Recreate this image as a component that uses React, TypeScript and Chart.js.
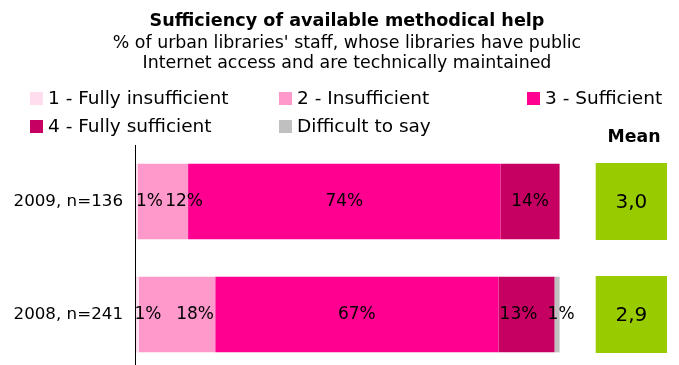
import React, { useEffect, useRef } from "react";
import { Chart, registerables } from "chart.js";
Chart.register(...registerables);

const TITLE = "Sufficiency of available methodical help";
const SUBTITLE = [
  "% of urban libraries' staff, whose libraries have public",
  "Internet access and are technically maintained",
];
const CATEGORIES = ["2009, n=136", "2008, n=241"];
const SERIES_NAMES = [
  "1 - Fully insufficient",
  "2 - Insufficient",
  "3 - Sufficient",
  "4 - Fully sufficient",
  "Difficult to say",
];
const FULLY_INSUFFICIENT = [0.7, 0.9];
const INSUFFICIENT = [11.8, 18.0];
const SUFFICIENT = [73.6, 66.7];
const FULLY_SUFFICIENT = [13.9, 13.2];
const DIFFICULT_TO_SAY = [0, 1.2];
const MEAN_LABEL = "Mean";
const MEANS = [3.0, 2.9];

const COLORS = ["#FFDDEE", "#FF99CC", "#FF0090", "#C60062", "#C0C0C0"];
const MEAN_COLOR = "#99CC00";
const FONT = '"DejaVu Sans", Verdana, sans-serif';
// label horizontal nudges (px) per series, per category
const LABEL_SHIFT = [
  [13, 11],
  [21, 18],
  [0, 0],
  [0, -8],
  [0, 4],
];
// mean box span on the value axis (layout only)
const MEAN_BOX = [108.5, 125.3];

const headerPlugin = {
  id: "header",
  afterDraw(chart: any) {
    const ctx = chart.ctx;
    ctx.save();
    ctx.fillStyle = "#000";
    ctx.textAlign = "center";
    ctx.textBaseline = "alphabetic";
    ctx.font = `bold 17.6px ${FONT}`;
    ctx.fillText(TITLE, 347, 26);
    ctx.font = `17.4px ${FONT}`;
    ctx.fillText(SUBTITLE[0], 347, 48);
    ctx.fillText(SUBTITLE[1], 347, 68);
    // legend
    const cols = [30, 279, 527];
    const rows = [104, 132];
    ctx.textAlign = "left";
    ctx.font = `18.5px ${FONT}`;
    SERIES_NAMES.forEach((name, i) => {
      const x = cols[i % 3];
      const y = rows[Math.floor(i / 3)];
      ctx.fillStyle = COLORS[i];
      ctx.fillRect(x, y - 12, 13, 13);
      ctx.fillStyle = "#000";
      ctx.fillText(name, x + 18, y);
    });
    ctx.textAlign = "center";
    ctx.font = `bold 17.3px ${FONT}`;
    ctx.fillText(MEAN_LABEL, 634, 142);
    ctx.restore();
  },
};

const labelPlugin = {
  id: "barLabels",
  afterDatasetsDraw(chart: any) {
    const ctx = chart.ctx;
    ctx.save();
    ctx.fillStyle = "#000";
    ctx.textAlign = "center";
    ctx.textBaseline = "middle";
    chart.data.datasets.forEach((ds: any, di: number) => {
      const meta = chart.getDatasetMeta(di);
      meta.data.forEach((el: any, i: number) => {
        if (ds.isMean) {
          ctx.font = `20px ${FONT}`;
          const txt = MEANS[i].toFixed(1).replace(".", ",");
          ctx.fillText(txt, (el.x + el.base) / 2, el.y + 1);
        } else {
          const v = ds.data[i];
          if (!v) return;
          ctx.font = `17px ${FONT}`;
          const cx = (el.x + el.base) / 2 + LABEL_SHIFT[di][i];
          ctx.fillText(Math.round(v) + "%", cx, el.y);
        }
      });
    });
    ctx.restore();
  },
};

export default function App() {
  const ref = useRef<HTMLCanvasElement>(null);
  useEffect(() => {
    if (!ref.current) return;
    const series = [
      FULLY_INSUFFICIENT,
      INSUFFICIENT,
      SUFFICIENT,
      FULLY_SUFFICIENT,
      DIFFICULT_TO_SAY,
    ];
    const datasets: any[] = series.map((d, i) => ({
      label: SERIES_NAMES[i],
      data: d,
      backgroundColor: COLORS[i],
      borderWidth: 0,
      xAxisID: "x",
      yAxisID: "y",
      grouped: false,
      barPercentage: 1,
      categoryPercentage: 0.67,
    }));
    datasets.push({
      label: MEAN_LABEL,
      isMean: true,
      data: MEANS.map(() => [MEAN_BOX[0], MEAN_BOX[1]]),
      backgroundColor: MEAN_COLOR,
      borderWidth: 0,
      xAxisID: "x",
      yAxisID: "y2",
      grouped: false,
      barPercentage: 1,
      categoryPercentage: 0.68,
    });
    const chart = new Chart(ref.current, {
      type: "bar",
      data: { labels: CATEGORIES, datasets },
      plugins: [headerPlugin, labelPlugin],
      options: {
        indexAxis: "y",
        animation: false,
        responsive: false,
        layout: { padding: { top: 145, right: 9, bottom: 0, left: 0 } },
        plugins: {
          legend: { display: false },
          title: { display: false },
          tooltip: { enabled: false },
        },
        scales: {
          x: {
            type: "linear",
            stacked: true,
            min: 0,
            max: 126,
            display: false,
          },
          y: {
            type: "category",
            stacked: true,
            offset: true,
            z: 1,
            grid: { display: false, drawTicks: false },
            border: { display: true, color: "#000", width: 1, z: 2 },
            ticks: {
              color: "#000",
              padding: 12,
              font: { family: FONT, size: 16.7 },
            },
            afterFit(scale: any) {
              scale.width = 135;
              scale.paddingTop = 0;
              scale.paddingBottom = 0;
            },
          },
          y2: {
            type: "category",
            labels: CATEGORIES,
            offset: true,
            display: false,
            stacked: true,
          },
        },
      } as any,
    });
    return () => chart.destroy();
  }, []);
  return (
    <div
      style={{
        position: "fixed",
        left: 0,
        top: 0,
        width: 679,
        height: 371,
        background: "#fff",
      }}
    >
      <canvas ref={ref} width={679} height={371} />
    </div>
  );
}
